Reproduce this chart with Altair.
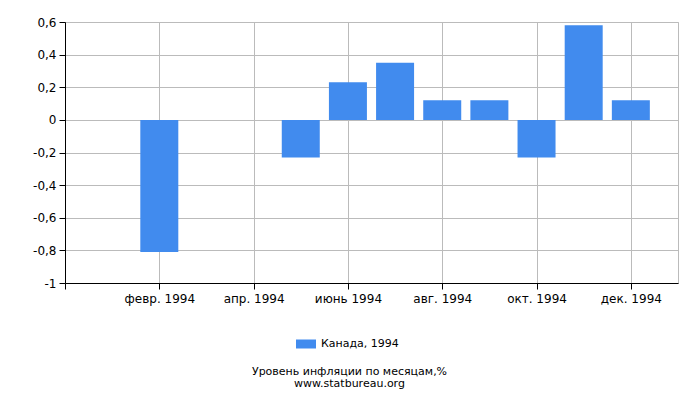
import altair as alt
import pandas as pd

months = list(range(1, 13))
month_labels = ["янв. 1994", "февр. 1994", "март 1994", "апр. 1994", "май 1994", "июнь 1994",
                "июль 1994", "авг. 1994", "сент. 1994", "окт. 1994", "нояб. 1994", "дек. 1994"]
values = [0.0, -0.81, 0.0, 0.0, -0.23, 0.23, 0.35, 0.12, 0.12, -0.23, 0.58, 0.12]
series = "Канада, 1994"
y_ticks = [-1, -0.8, -0.6, -0.4, -0.2, 0, 0.2, 0.4, 0.6]
x_ticks = [0, 2, 4, 6, 8, 10, 12]

df = pd.DataFrame({"month": months, "value": values, "series": [series] * 12})

label_arr = "[" + ",".join(["''"] + [f"'{l}'" for l in month_labels]) + "]"

FONT = "DejaVu Sans"

chart = alt.Chart(df).mark_bar(size=38, color="#418bee").encode(
    x=alt.X("month:Q",
            scale=alt.Scale(domain=[0, 13], nice=False, zero=False, padding=0),
            axis=alt.Axis(values=x_ticks, labelExpr=label_arr + "[datum.value]",
                          title=None, grid=True, gridColor="#bbbbbb", tickColor="#000000",
                          domainColor="#000000", tickSize=6, labelPadding=4,
                          labelFont=FONT, labelFontSize=12, labelColor="#000000")),
    y=alt.Y("value:Q",
            scale=alt.Scale(domain=[-1, 0.6], nice=False, padding=0),
            axis=alt.Axis(values=y_ticks, labelExpr="replace(toString(datum.value), '.', ',')",
                          title=None, grid=True, gridColor="#bbbbbb", tickColor="#000000",
                          domainColor="#000000", tickSize=6, labelPadding=3,
                          labelFont=FONT, labelFontSize=12, labelColor="#000000")),
    color=alt.Color("series:N", scale=alt.Scale(range=["#418bee"]),
                    legend=alt.Legend(orient="none", legendX=231, legendY=312, title=None,
                                      symbolType="M-1,-0.45H1V0.45H-1Z", symbolSize=400,
                                      symbolStrokeWidth=0, labelOffset=5,
                                      labelFont=FONT, labelFontSize=11, labelColor="#000000")),
).properties(
    width=613, height=261,
    padding={"left": 24, "top": 8, "right": 5, "bottom": 5},
    title=alt.Title(["Уровень инфляции по месяцам,%", "www.statbureau.org"],
                    orient="bottom", font=FONT, fontSize=11, fontWeight="normal",
                    color="#000000", lineHeight=12, offset=17, dx=-22, anchor="middle"),
).configure_view(stroke="#bbbbbb")

chart.save("out.html", embed_options={"renderer": "svg", "actions": False})
